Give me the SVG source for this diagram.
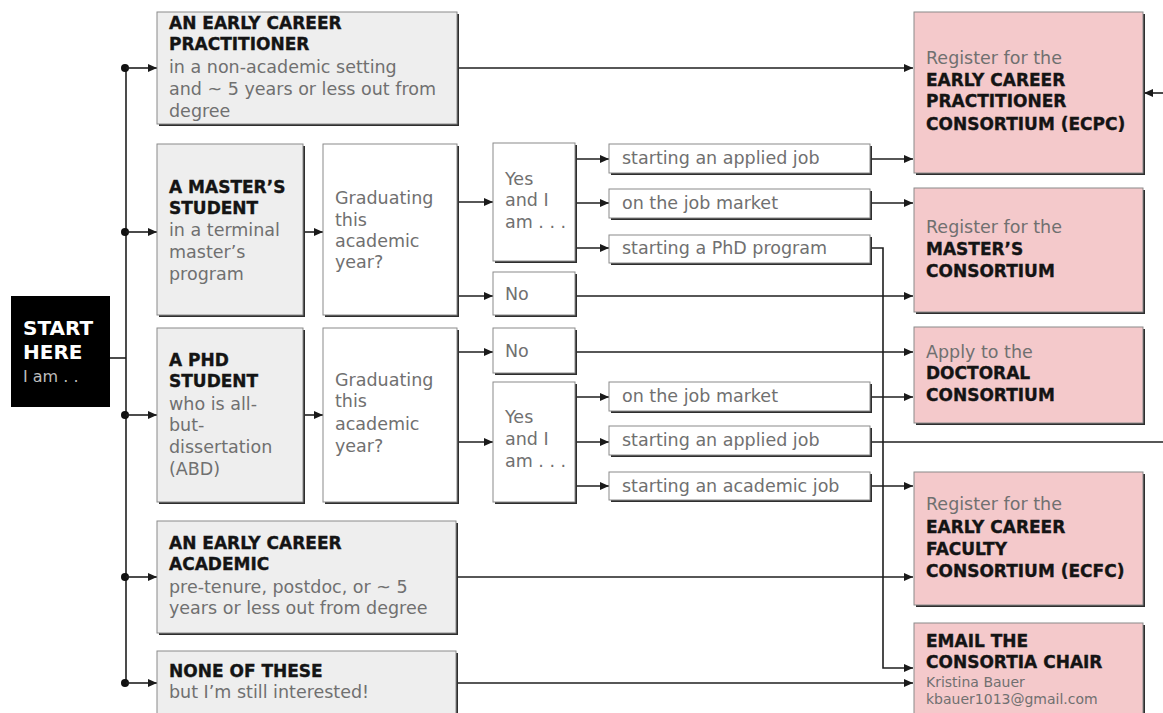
<svg xmlns="http://www.w3.org/2000/svg" width="1163" height="713" viewBox="0 0 1163 713">
<defs>
<marker id="ah" markerWidth="10" markerHeight="8" refX="9" refY="4" orient="auto" markerUnits="userSpaceOnUse">
<path d="M0,0 L9,4 L0,8 z" fill="#1a1a1a"/>
</marker>
<style>
.sh{fill:#2e2e2e}
.g{fill:#eeeeee;stroke:#8a8a8a;stroke-width:1}
.w{fill:#ffffff;stroke:#8a8a8a;stroke-width:1}
.p{fill:#f4c9cb;stroke:#8a8a8a;stroke-width:1}
.b{font-family:"DejaVu Sans",sans-serif;font-weight:bold;font-size:17px;fill:#141414;stroke:#141414;stroke-width:0.35}
.n{font-family:"DejaVu Sans",sans-serif;font-size:17.5px;fill:#707070}
.s{font-family:"DejaVu Sans",sans-serif;font-size:14px;fill:#707070}
.c{fill:none;stroke:#1f1f1f;stroke-width:1.6}
.a{fill:none;stroke:#1f1f1f;stroke-width:1.6;marker-end:url(#ah)}
</style>
</defs>
<rect width="1163" height="713" fill="#ffffff"/>

<g id="connectors">
<line class="c" x1="110" y1="358" x2="126" y2="358"/>
<line class="c" x1="126" y1="68" x2="126" y2="683"/>
<circle cx="125" cy="68" r="4" fill="#111"/>
<circle cx="125" cy="232" r="4" fill="#111"/>
<circle cx="125" cy="415" r="4" fill="#111"/>
<circle cx="125" cy="577" r="4" fill="#111"/>
<circle cx="125" cy="683" r="4" fill="#111"/>
<line class="a" x1="126" y1="68" x2="157" y2="68"/>
<line class="a" x1="126" y1="232" x2="157" y2="232"/>
<line class="a" x1="126" y1="415" x2="157" y2="415"/>
<line class="a" x1="126" y1="577" x2="157" y2="577"/>
<line class="a" x1="126" y1="683" x2="157" y2="683"/>
<line class="a" x1="303" y1="232" x2="323" y2="232"/>
<line class="a" x1="303" y1="415" x2="323" y2="415"/>
<line class="a" x1="457" y1="202" x2="493" y2="202"/>
<line class="a" x1="457" y1="296" x2="493" y2="296"/>
<line class="a" x1="457" y1="352" x2="493" y2="352"/>
<line class="a" x1="457" y1="442" x2="493" y2="442"/>
<line class="a" x1="575" y1="159" x2="609" y2="159"/>
<line class="a" x1="575" y1="203" x2="609" y2="203"/>
<line class="a" x1="575" y1="248" x2="609" y2="248"/>
<line class="a" x1="575" y1="397" x2="609" y2="397"/>
<line class="a" x1="575" y1="442" x2="609" y2="442"/>
<line class="a" x1="575" y1="486" x2="609" y2="486"/>
<line class="a" x1="457" y1="68" x2="913" y2="68"/>
<line class="a" x1="870" y1="159" x2="913" y2="159"/>
<line class="a" x1="870" y1="203" x2="913" y2="203"/>
<polyline class="a" points="870,248 883,248 883,668 913,668"/>
<line class="a" x1="575" y1="296" x2="913" y2="296"/>
<line class="a" x1="575" y1="352" x2="913" y2="352"/>
<line class="a" x1="870" y1="397" x2="913" y2="397"/>
<line class="c" x1="870" y1="442" x2="1163" y2="442"/>
<line class="a" x1="1163" y1="93" x2="1144" y2="93"/>
<line class="a" x1="870" y1="486" x2="913" y2="486"/>
<line class="a" x1="456" y1="577" x2="913" y2="577"/>
<line class="a" x1="456" y1="683" x2="913" y2="683"/>
</g>

<g id="start">
<rect x="11" y="296" width="99" height="111" fill="#000"/>
<text x="23" y="335" style="font-family:'DejaVu Sans',sans-serif;font-weight:bold;font-size:20px;fill:#ffffff">START</text>
<text x="23" y="359" style="font-family:'DejaVu Sans',sans-serif;font-weight:bold;font-size:20px;fill:#ffffff">HERE</text>
<text x="23" y="382" style="font-family:'DejaVu Sans',sans-serif;font-size:16px;fill:#bdbdbd">I am . .</text>
</g>

<g id="ec-practitioner">
<rect class="sh" x="159" y="14" width="300" height="112"/>
<rect class="g" x="157" y="12" width="300" height="112"/>
<text class="b" x="169" y="29">AN EARLY CAREER</text>
<text class="b" x="169" y="50">PRACTITIONER</text>
<text class="n" x="169" y="73">in a non-academic setting</text>
<text class="n" x="169" y="95">and ~ 5 years or less out from</text>
<text class="n" x="169" y="117">degree</text>
</g>

<g id="masters-student">
<rect class="sh" x="159" y="146" width="146" height="171"/>
<rect class="g" x="157" y="144" width="146" height="171"/>
<text class="b" x="169" y="193">A MASTER’S</text>
<text class="b" x="169" y="214">STUDENT</text>
<text class="n" x="169" y="236">in a terminal</text>
<text class="n" x="169" y="258">master’s</text>
<text class="n" x="169" y="280">program</text>
</g>

<g id="masters-graduating">
<rect class="sh" x="325" y="146" width="134" height="171"/>
<rect class="w" x="323" y="144" width="134" height="171"/>
<text class="n" x="335" y="204">Graduating</text>
<text class="n" x="335" y="226">this</text>
<text class="n" x="335" y="247">academic</text>
<text class="n" x="335" y="268">year?</text>
</g>

<g id="masters-yes">
<rect class="sh" x="495" y="145" width="82" height="118"/>
<rect class="w" x="493" y="143" width="82" height="118"/>
<text class="n" x="505" y="185">Yes</text>
<text class="n" x="505" y="206">and I</text>
<text class="n" x="505" y="228">am . . .</text>
</g>

<g id="masters-no">
<rect class="sh" x="495" y="274" width="82" height="43"/>
<rect class="w" x="493" y="272" width="82" height="43"/>
<text class="n" x="505" y="300">No</text>
</g>

<g id="m-applied">
<rect class="sh" x="611" y="146" width="261" height="29"/>
<rect class="w" x="609" y="144" width="261" height="29"/>
<text class="n" x="622" y="164">starting an applied job</text>
</g>
<g id="m-market">
<rect class="sh" x="611" y="191" width="261" height="29"/>
<rect class="w" x="609" y="189" width="261" height="29"/>
<text class="n" x="622" y="209">on the job market</text>
</g>
<g id="m-phd">
<rect class="sh" x="611" y="237" width="261" height="28"/>
<rect class="w" x="609" y="235" width="261" height="28"/>
<text class="n" x="622" y="254">starting a PhD program</text>
</g>

<g id="phd-student">
<rect class="sh" x="159" y="330" width="146" height="174"/>
<rect class="g" x="157" y="328" width="146" height="174"/>
<text class="b" x="169" y="366">A PHD</text>
<text class="b" x="169" y="387">STUDENT</text>
<text class="n" x="169" y="410">who is all-</text>
<text class="n" x="169" y="431">but-</text>
<text class="n" x="169" y="453">dissertation</text>
<text class="n" x="169" y="475">(ABD)</text>
</g>

<g id="phd-graduating">
<rect class="sh" x="325" y="330" width="134" height="174"/>
<rect class="w" x="323" y="328" width="134" height="174"/>
<text class="n" x="335" y="386">Graduating</text>
<text class="n" x="335" y="407">this</text>
<text class="n" x="335" y="430">academic</text>
<text class="n" x="335" y="452">year?</text>
</g>

<g id="phd-no">
<rect class="sh" x="495" y="330" width="82" height="45"/>
<rect class="w" x="493" y="328" width="82" height="45"/>
<text class="n" x="505" y="357">No</text>
</g>

<g id="phd-yes">
<rect class="sh" x="495" y="384" width="82" height="120"/>
<rect class="w" x="493" y="382" width="82" height="120"/>
<text class="n" x="505" y="423">Yes</text>
<text class="n" x="505" y="445">and I</text>
<text class="n" x="505" y="467">am . . .</text>
</g>

<g id="p-market">
<rect class="sh" x="611" y="384" width="261" height="29"/>
<rect class="w" x="609" y="382" width="261" height="29"/>
<text class="n" x="622" y="402">on the job market</text>
</g>
<g id="p-applied">
<rect class="sh" x="611" y="428" width="261" height="29"/>
<rect class="w" x="609" y="426" width="261" height="29"/>
<text class="n" x="622" y="446">starting an applied job</text>
</g>
<g id="p-academic">
<rect class="sh" x="611" y="474" width="261" height="28"/>
<rect class="w" x="609" y="472" width="261" height="28"/>
<text class="n" x="622" y="492">starting an academic job</text>
</g>

<g id="ec-academic">
<rect class="sh" x="159" y="523" width="299" height="112"/>
<rect class="g" x="157" y="521" width="299" height="112"/>
<text class="b" x="169" y="549">AN EARLY CAREER</text>
<text class="b" x="169" y="570">ACADEMIC</text>
<text class="n" x="169" y="593">pre-tenure, postdoc, or ~ 5</text>
<text class="n" x="169" y="614">years or less out from degree</text>
</g>

<g id="none">
<rect class="sh" x="159" y="653" width="299" height="80"/>
<rect class="g" x="157" y="651" width="299" height="80"/>
<text class="b" x="169" y="677">NONE OF THESE</text>
<text class="n" x="169" y="698">but I’m still interested!</text>
</g>

<g id="ecpc">
<rect class="sh" x="916" y="14" width="229" height="161"/>
<rect class="p" x="914" y="12" width="229" height="161"/>
<text class="n" x="926" y="64">Register for the</text>
<text class="b" x="926" y="86">EARLY CAREER</text>
<text class="b" x="926" y="107">PRACTITIONER</text>
<text class="b" x="926" y="130">CONSORTIUM (ECPC)</text>
</g>

<g id="masters-consortium">
<rect class="sh" x="916" y="190" width="229" height="124"/>
<rect class="p" x="914" y="188" width="229" height="124"/>
<text class="n" x="926" y="233">Register for the</text>
<text class="b" x="926" y="255">MASTER’S</text>
<text class="b" x="926" y="277">CONSORTIUM</text>
</g>

<g id="doctoral-consortium">
<rect class="sh" x="916" y="329" width="229" height="96"/>
<rect class="p" x="914" y="327" width="229" height="96"/>
<text class="n" x="926" y="358">Apply to the</text>
<text class="b" x="926" y="379">DOCTORAL</text>
<text class="b" x="926" y="401">CONSORTIUM</text>
</g>

<g id="ecfc">
<rect class="sh" x="916" y="474" width="229" height="133"/>
<rect class="p" x="914" y="472" width="229" height="133"/>
<text class="n" x="926" y="510">Register for the</text>
<text class="b" x="926" y="533">EARLY CAREER</text>
<text class="b" x="926" y="555">FACULTY</text>
<text class="b" x="926" y="577">CONSORTIUM (ECFC)</text>
</g>

<g id="email-chair">
<rect class="sh" x="916" y="625" width="229" height="100"/>
<rect class="p" x="914" y="623" width="229" height="100"/>
<text class="b" x="926" y="647">EMAIL THE</text>
<text class="b" x="926" y="668">CONSORTIA CHAIR</text>
<text class="s" x="926" y="687">Kristina Bauer</text>
<text class="s" x="926" y="704">kbauer1013@gmail.com</text>
</g>
</svg>
